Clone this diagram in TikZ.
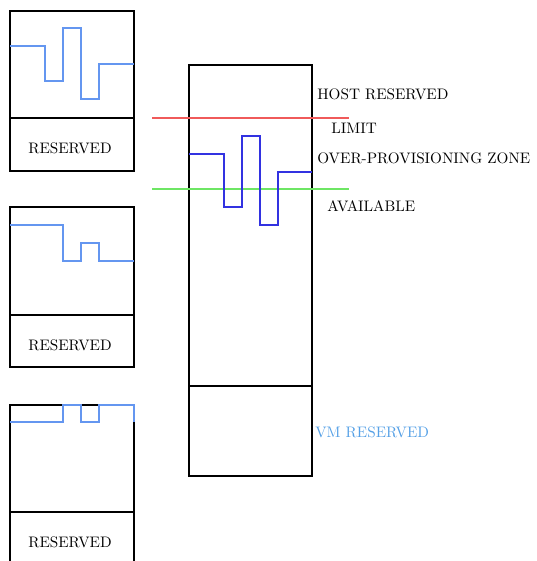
\documentclass[tikz,border=0pt]{standalone}
\definecolor{wavelight}{RGB}{100,150,240}
\definecolor{wavedark}{RGB}{50,50,225}
\definecolor{limitred}{RGB}{240,90,90}
\definecolor{availgreen}{RGB}{110,230,100}
\definecolor{vmblue}{RGB}{85,160,230}
\begin{document}
\begin{tikzpicture}[x=0.657pt,y=-0.657pt,
  boxline/.style={draw=black,line width=0.9pt},
  lightwave/.style={draw=wavelight,line width=1.1pt},
  darkwave/.style={draw=wavedark,line width=1.1pt},
  lbl/.style={font=\normalsize,inner sep=0pt,anchor=west},
  reslbl/.style={font=\normalsize,inner sep=0pt}]
\useasboundingbox (0,0) rectangle (537,561);
% small box 1
\draw[boxline] (10,11) rectangle (134,171);
\draw[boxline] (10,118) -- (134,118);
\node[reslbl] (r1) at (70,148) {RESERVED};
\draw[lightwave] (10,46) -- (45,46) -- (45,81) -- (63,81) -- (63,28) -- (81,28) -- (81,99) -- (99,99) -- (99,64) -- (134,64);
% small box 2
\draw[boxline] (10,207) rectangle (134,367);
\draw[boxline] (10,315) -- (134,315);
\node[reslbl] (r2) at (70,345) {RESERVED};
\draw[lightwave] (10,225) -- (63,225) -- (63,261) -- (81,261) -- (81,243) -- (99,243) -- (99,261) -- (134,261);
% small box 3
\draw[boxline] (10,405) rectangle (134,565);
\draw[boxline] (10,512) -- (134,512);
\node[reslbl] (r3) at (70,542) {RESERVED};
\draw[lightwave] (10,422) -- (63,422) -- (63,405) -- (81,405) -- (81,422) -- (99,422) -- (99,405) -- (134,405) -- (134,422);
% big box
\draw[boxline] (189,65) rectangle (312,476);
\draw[boxline] (189,386) -- (312,386);
\draw[draw=limitred,line width=1pt] (152,118) -- (349,118);
\draw[draw=availgreen,line width=1pt] (152,189) -- (349,189);
\draw[darkwave] (189,154) -- (224,154) -- (224,207) -- (242,207) -- (242,136) -- (260,136) -- (260,225) -- (278,225) -- (278,172) -- (312,172);
% labels
\node[lbl] (host) at (317,94) {HOST RESERVED};
\node[lbl] (limit) at (331,128) {LIMIT};
\node[lbl] (over) at (317,158) {OVER-PROVISIONING ZONE};
\node[lbl] (avail) at (327,206) {AVAILABLE};
\node[lbl,text=vmblue] (vm) at (315,432) {VM RESERVED};
\end{tikzpicture}
\end{document}
